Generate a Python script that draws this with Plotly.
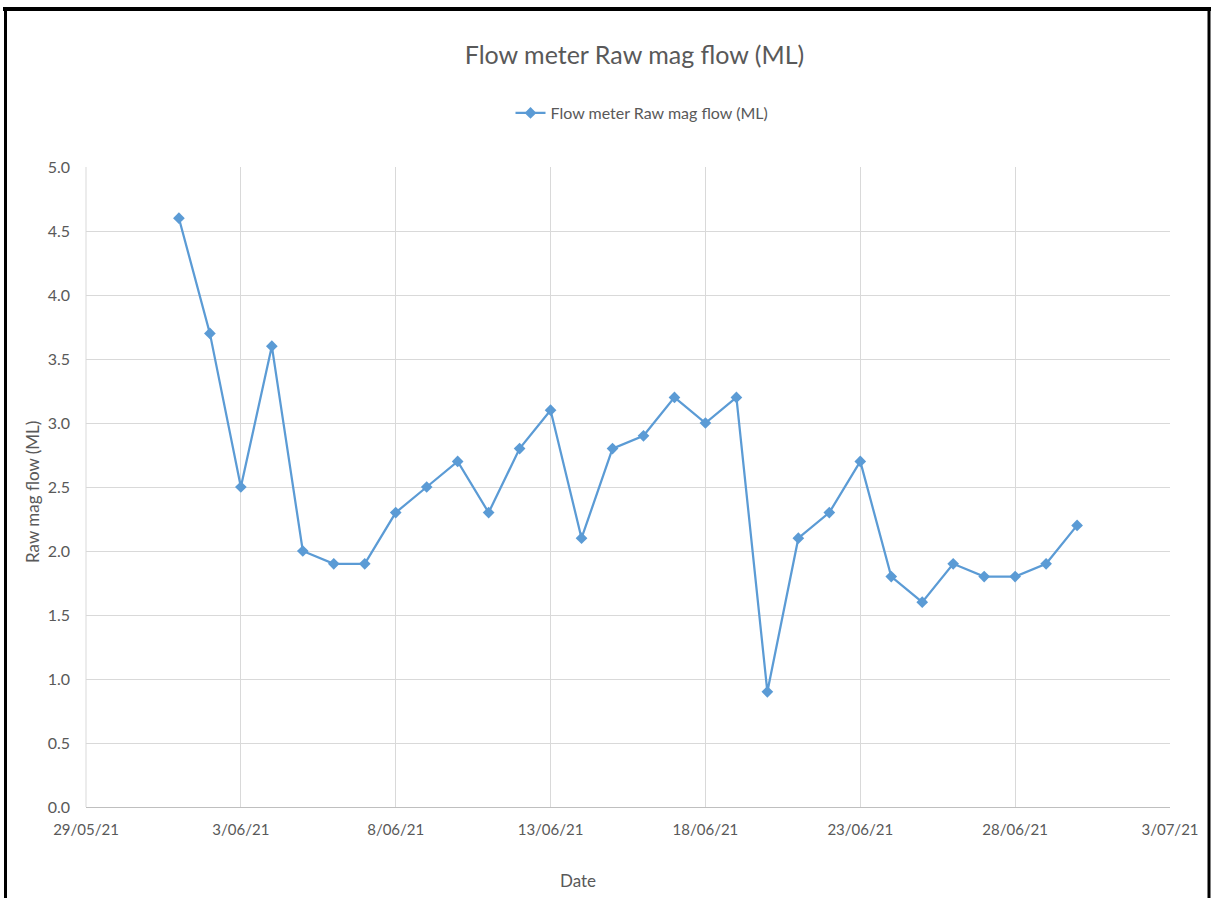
import plotly.graph_objects as go
import pandas as pd

# Daily readings, 1 June to 30 June 2021
dates = pd.date_range("2021-06-01", "2021-06-30", freq="D")
flow_ml = [4.6, 3.7, 2.5, 3.6, 2.0, 1.9, 1.9, 2.3, 2.5, 2.7,
           2.3, 2.8, 3.1, 2.1, 2.8, 2.9, 3.2, 3.0, 3.2, 0.9,
           2.1, 2.3, 2.7, 1.8, 1.6, 1.9, 1.8, 1.8, 1.9, 2.2]

x_ticks = pd.date_range("2021-05-29", "2021-07-03", freq="5D")
x_tick_labels = [f"{d.day}/{d.month:02d}/{d.strftime('%y')}" for d in x_ticks]
y_ticks = [0.0, 0.5, 1.0, 1.5, 2.0, 2.5, 3.0, 3.5, 4.0, 4.5, 5.0]

series_name = "Flow meter Raw mag flow (ML)"
blue = "#5B9BD5"
grid = "#D9D9D9"
txt = "#595959"
font_family = "Lato, 'Open Sans', sans-serif"

W, H = 1213, 898
L, R, T, B = 86, 43, 167, 91
pw, ph = W - L - R, H - T - B


def px(x):
    return (x - L) / pw


def py(y):
    return (H - B - y) / ph


fig = go.Figure()
fig.add_trace(go.Scatter(
    x=dates, y=flow_ml, name=series_name, mode="lines+markers",
    line=dict(color=blue, width=2.25),
    marker=dict(symbol="diamond", size=9, color=blue),
))

fig.update_layout(
    width=W, height=H,
    margin=dict(l=L, r=R, t=T, b=B, autoexpand=False),
    paper_bgcolor="white", plot_bgcolor="white",
    font=dict(family=font_family, color=txt, size=15),
    title=dict(text=series_name, x=634.5 / W, xanchor="center",
               y=1 - 55 / H, yanchor="middle",
               font=dict(size=25, color=txt, family=font_family)),
    showlegend=True,
    legend=dict(orientation="h", x=px(642), xanchor="center",
                y=py(113), yanchor="middle",
                font=dict(size=16, color=txt), bgcolor="rgba(0,0,0,0)"),
    xaxis=dict(
        range=[x_ticks[0], x_ticks[-1]],
        tickmode="array", tickvals=x_ticks, ticktext=x_tick_labels,
        showgrid=True, gridcolor=grid, gridwidth=1,
        showline=True, linecolor="#BFBFBF", linewidth=1,
        ticks="", zeroline=False, tickfont=dict(size=15, color=txt),
        ticklabelstandoff=9, mirror=False,
    ),
    yaxis=dict(
        range=[0, 5], tickmode="array", tickvals=y_ticks,
        ticktext=[f"{v:.1f}" for v in y_ticks],
        showgrid=True, gridcolor=grid, gridwidth=1,
        showline=False, zeroline=False, ticks="",
        tickfont=dict(size=16, color=txt), ticklabelstandoff=15,
    ),
    annotations=[
        dict(text="Date", x=px(578), y=py(880), xref="paper", yref="paper",
             xanchor="center", yanchor="middle", showarrow=False,
             font=dict(size=17, color=txt)),
        dict(text="Raw mag flow (ML)", x=px(32), y=py(492), xref="paper", yref="paper",
             xanchor="center", yanchor="middle", showarrow=False, textangle=-90,
             font=dict(size=17, color=txt)),
    ],
    shapes=[
        # left edge of plot frame
        dict(type="line", xref="paper", yref="paper", x0=0, x1=0, y0=0, y1=1,
             line=dict(color=grid, width=1)),
        # outer black frame
        dict(type="line", xref="paper", yref="paper", x0=px(3), x1=px(1211),
             y0=py(9), y1=py(9), line=dict(color="black", width=4)),
        dict(type="line", xref="paper", yref="paper", x0=px(5.5), x1=px(5.5),
             y0=py(7), y1=py(905), line=dict(color="black", width=3)),
        dict(type="line", xref="paper", yref="paper", x0=px(1209), x1=px(1209),
             y0=py(7), y1=py(905), line=dict(color="black", width=3)),
    ],
)

fig.write_html("out.html")
